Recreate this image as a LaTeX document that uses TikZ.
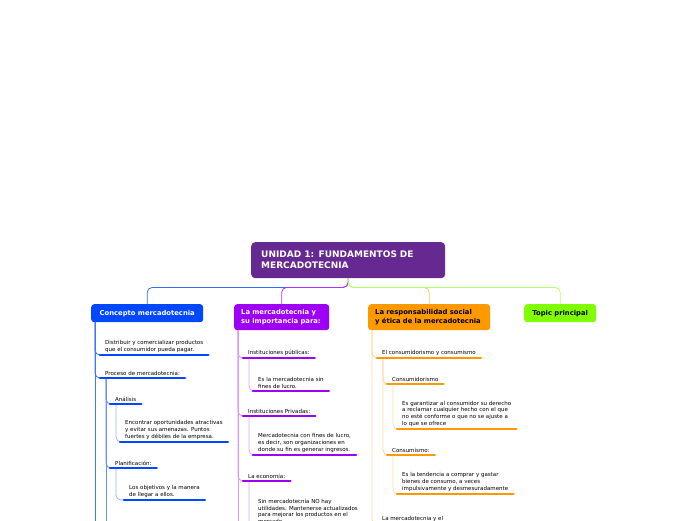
\documentclass[tikz,border=0pt]{standalone}
\usepackage{fontspec}
\setmainfont{DejaVu Sans}
\usetikzlibrary{calc,positioning}
\definecolor{mapblue}{RGB}{0,72,255}
\definecolor{mappurple}{RGB}{158,0,245}
\definecolor{maporange}{RGB}{255,153,0}
\definecolor{mapgreen}{RGB}{128,255,0}
\definecolor{maproot}{RGB}{102,41,145}

\begin{document}
\begin{tikzpicture}[x=1pt,y=-1pt,line cap=round,
 rootbox/.style={fill=maproot,text=white,rounded corners=4pt,anchor=north west,
  font=\fontsize{9}{11}\selectfont\bfseries,align=left,inner xsep=10pt,
  text width=174pt,minimum height=36pt},
 topicbox/.style={fill=#1,rounded corners=3pt,anchor=north west,
  font=\fontsize{6.8}{8.8}\selectfont\bfseries,inner xsep=7pt},
 sub/.style={anchor=south west,align=left,inner xsep=5pt,inner ysep=2.5pt,
  font=\fontsize{5.5}{6.6}\selectfont},
 uline/.style={#1,line width=2.6pt},
 link/.style={#1,line width=0.8pt,rounded corners=5pt}]
\useasboundingbox (0,0) rectangle (696,520);
\clip (0,0) rectangle (696,520);

% main topic and the four branches
\node[rootbox] (root) at (251,242) {UNIDAD 1: FUNDAMENTOS DE\\MERCADOTECNIA};
\node[topicbox=mapblue,text=white,minimum width=112pt,minimum height=18pt]
 (concepto) at (91,304) {Concepto mercadotecnia};
\node[topicbox=mappurple,text=white,text width=81pt,align=left,minimum height=26pt]
 (importancia) at (234,304) {La mercadotecnia y\\su importancia para:};
\node[topicbox=maporange,text width=108pt,align=left,minimum height=26pt]
 (etica) at (368,304) {La responsabilidad social\\y ética de la mercadotecnia};
\node[topicbox=mapgreen,minimum width=72pt,minimum height=18pt]
 (principal) at (524,304) {Topic principal};

\draw[link=mapblue!80] (root.south) -- ++(0,9) -| (concepto.north);
\draw[link=mappurple!80] (root.south) -- ++(0,9) -| (importancia.north);
\draw[link=maporange!60] (root.south) -- ++(0,9) -| (etica.north);
\draw[link=mapgreen!60] (root.south) -- ++(0,9) -| (principal.north);

% Concepto mercadotecnia
\node[sub] (dist) at (100,355) {Distribuir y comercializar productos\\que el consumidor pueda pagar.};
\node[sub] (proceso) at (100,378) {Proceso de mercadotecnia:};
\node[sub] (analisis) at (110,404) {Análisis};
\node[sub] (encontrar) at (120,442) {Encontrar oportunidades atractivas\\y evitar sus amenazas. Puntos\\fuertes y débiles de la empresa.};
\node[sub] (planif) at (110,468) {Planificación:};
\node[sub] (objetivos) at (124,500) {Los objetivos y la manera\\de llegar a ellos.};
\coordinate (blueend) at (95,530);
\coordinate (procend) at (106,530);

\draw[link=mapblue!75] ($(concepto.south west)+(4,0)$) -- (blueend);
\foreach \n in {dist,proceso}
 \draw[link=mapblue!75] ($(concepto.south west)+(4,0)$) |- (\n.south west);
\draw[link=mapblue!60] ($(proceso.south west)+(6,0)$) -- (procend);
\foreach \n in {analisis,planif}
 \draw[link=mapblue!60] ($(proceso.south west)+(6,0)$) |- (\n.south west);
\draw[link=mapblue!40] ($(analisis.south west)+(6,0)$) |- (encontrar.south west);
\draw[link=mapblue!40] ($(planif.south west)+(6,0)$) |- (objetivos.south west);

% La mercadotecnia y su importancia
\node[sub] (publicas) at (243,358) {Instituciones públicas:};
\node[sub] (sinlucro) at (253,391) {Es la mercadotecnia sin\\fines de lucro.};
\node[sub] (privadas) at (243,416) {Instituciones Privadas:};
\node[sub] (conlucro) at (253,455) {Mercadotecnia con fines de lucro,\\es decir, son organizaciones en\\donde su fin es generar ingresos.};
\node[sub] (economia) at (243,481) {La economía:};
\node[sub] (utilidades) at (253,526) {Sin mercadotecnia NO hay\\utilidades. Mantenerse actualizados\\para mejorar los productos en el\\mercado};
\coordinate (purpleend) at (238,530);

\draw[link=mappurple!40] ($(importancia.south west)+(4,0)$) -- (purpleend);
\foreach \n in {publicas,privadas,economia}
 \draw[link=mappurple!40] ($(importancia.south west)+(4,0)$) |- (\n.south west);
\foreach \p/\n in {publicas/sinlucro,privadas/conlucro,economia/utilidades}
 \draw[link=mappurple!35] ($(\p.south west)+(6,0)$) |- (\n.south west);

% La responsabilidad social
\node[sub] (consumo) at (377,358) {El consumidorismo y consumismo};
\node[sub] (consumidorismo) at (387,384) {Consumidorismo};
\node[sub] (garantizar) at (397,429) {Es garantizar al consumidor su derecho\\a reclamar cualquier hecho con el que\\no esté conforme o que no se ajuste a\\lo que se ofrece};
\node[sub] (consumismo) at (387,455) {Consumismo:};
\node[sub] (tendencia) at (397,494) {Es la tendencia a comprar y gastar\\bienes  de consumo, a veces\\impulsivamente y desmesuradamente};
\node[sub] (mercyel) at (377,524) {La mercadotecnia y el};

\foreach \n in {consumo,mercyel}
 \draw[link=maporange!40] ($(etica.south west)+(4,0)$) |- (\n.south west);
\foreach \n in {consumidorismo,consumismo}
 \draw[link=maporange!40] ($(consumo.south west)+(6,0)$) |- (\n.south west);
\draw[link=maporange!35] ($(consumidorismo.south west)+(6,0)$) |- (garantizar.south west);
\draw[link=maporange!35] ($(consumismo.south west)+(6,0)$) |- (tendencia.south west);

% underlines
\foreach \n/\c in {dist/mapblue,proceso/mapblue,analisis/mapblue,encontrar/mapblue,
 planif/mapblue,objetivos/mapblue,publicas/mappurple,sinlucro/mappurple,
 privadas/mappurple,conlucro/mappurple,economia/mappurple,utilidades/mappurple,
 consumo/maporange,consumidorismo/maporange,garantizar/maporange,
 consumismo/maporange,tendencia/maporange,mercyel/maporange}
 \draw[uline=\c] (\n.south west) -- (\n.south east);
\end{tikzpicture}
\end{document}
